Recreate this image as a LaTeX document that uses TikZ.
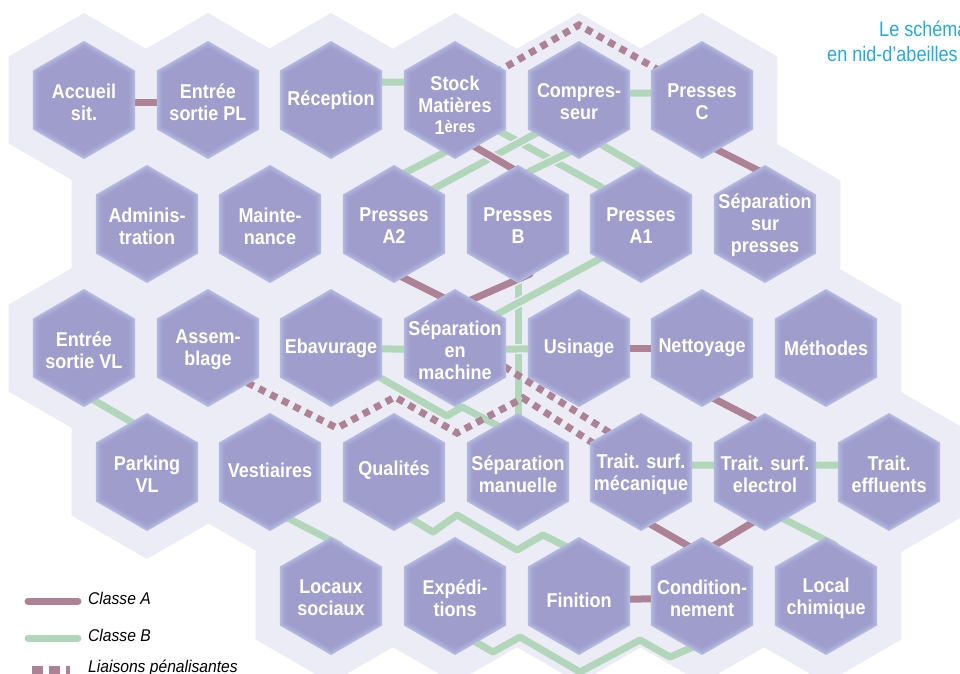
\documentclass[tikz,border=0pt]{standalone}
\usepackage{fontspec}
\setmainfont{Liberation Sans}
\newfontfamily\hexfont[FakeStretch=0.9]{Liberation Sans}
\newfontfamily\legfont[FakeStretch=0.92]{Liberation Sans}
\newfontfamily\titfont[FakeStretch=0.86]{Liberation Sans}
\pgfdeclarelayer{bgl}
\pgfdeclarelayer{conn}
\pgfsetlayers{bgl,conn,main}
\definecolor{bgc}{RGB}{236,236,246}
\definecolor{hxa}{RGB}{178,184,222}
\definecolor{hxb}{RGB}{170,173,216}
\definecolor{hxc}{RGB}{163,164,210}
\definecolor{hxd}{RGB}{158,157,204}
\definecolor{mauve}{RGB}{172,130,148}
\definecolor{vert}{RGB}{178,214,186}
\definecolor{cyant}{RGB}{42,167,223}
\tikzset{
  lbl/.style={text=white, align=center, inner sep=0pt, font=\hexfont\bfseries\fontsize{20}{22}\selectfont},
  leg/.style={anchor=base west, inner sep=0pt, font=\legfont\itshape\fontsize{17}{20}\selectfont},
  tit/.style={anchor=base west, inner sep=0pt, text=cyant, font=\titfont\fontsize{21}{25}\selectfont},
  cA/.style={draw=mauve, line width=7pt, line cap=round, line join=round, preaction={draw=bgc, line width=10pt}},
  cB/.style={draw=vert, line width=7pt, line cap=round, line join=round, preaction={draw=bgc, line width=10pt}},
  cP/.style={draw=mauve, line width=7pt, line cap=butt, line join=miter, dash pattern=on 7pt off 6pt},
}
\begin{document}
\begin{tikzpicture}[x=1pt,y=-1pt]
\useasboundingbox (0,0) rectangle (960,673);
\foreach \n/\x/\y/\s/\t in {
  acc/84/100/2/{Accueil\\sit.}, epl/208/100/2/{Entrée\\sortie PL}, rec/331/100/0/{Réception},
  stock/455/100/5/{Stock\\Matières\\1\raisebox{1.5pt}{\fontsize{16.5}{16.5}\selectfont ères}},
  comp/579/100/2/{Compres-\\seur}, pc/702/100/2/{Presses\\C},
  adm/147/224/2/{Adminis-\\tration}, mnt/270/224/2/{Mainte-\\nance}, a2/394/224/2/{Presses\\A2},
  pb/518/224/2/{Presses\\B}, a1/641/224/2/{Presses\\A1}, ssp/765/224/1/{Séparation\\sur\\presses},
  evl/84/348/2/{Entrée\\sortie VL}, asm/208/348/2/{Assem-\\blage}, eb/331/348/0/{Ebavurage},
  sm/455/348/2/{Séparation\\en\\machine}, us/579/348/0/{Usinage}, net/702/348/0/{Nettoyage},
  met/826/348/0/{Méthodes},
  pvl/147/472/2/{Parking\\VL}, ves/270/472/-2/{Vestiaires}, qual/394/472/-2/{Qualités},
  sman/518/472/2/{Séparation\\manuelle}, tsm/641/472/2/{Trait. surf.\\mécanique},
  tse/765/472/2/{Trait. surf.\\electrol}, tef/889/472/2/{Trait.\\effluents},
  loc/331/596/2/{Locaux\\sociaux}, exp/455/596/2/{Expédi-\\tions}, fin/579/596/4/{Finition},
  cond/702/596/2/{Condition-\\nement}, lc/826/596/2/{Local\\chimique}}{
  \begin{pgfonlayer}{bgl}
    \fill[bgc] (\x,\y) +(90:87) -- +(30:87) -- +(-30:87) -- +(-90:87) -- +(-150:87) -- +(150:87) -- cycle;
  \end{pgfonlayer}
  \foreach \r/\c in {59/hxa,57/hxb,55/hxc,52.5/hxd}{
    \fill[\c] (\x,\y) +(90:\r) -- +(30:\r) -- +(-30:\r) -- +(-90:\r) -- +(-150:\r) -- +(150:\r) -- cycle;
  }
  \node[lbl] (\n) at (\x,\y+\s) {\t};
}
\begin{pgfonlayer}{conn}
% row 1
\draw[cA] (acc.center) -- (epl.center);
\draw[cB] (rec.center) -- (360,82) -- (430,82) -- (stock.center);
\draw[cB] (comp.center) -- (610,93) -- (672,93) -- (pc.center);
% row 1 -> row 2
\draw[cB] (stock.center) -- (490,126) -- (612,193) -- (a1.center);
\draw[cB] (stock.center) -- (455,147) -- (395,178) -- (a2.center);
\draw[cB] (comp.center) -- (545,128.5) -- (425,193.5) -- (a2.center);
\draw[cB] (comp.center) -- (580,147) -- (518,177) -- (pb.center);
\draw[cB] (comp.center) -- (590,138) -- (650,173) -- (a1.center);
\draw[cA] (stock.center) -- (465,141) -- (520,173) -- (pb.center);
\draw[cA] (pc.center) -- (700,141) -- (775,179) -- (ssp.center);
\draw[cP] (stock.center) -- (495,73) -- (579,25) -- (662,72) -- (pc.center);
% row 2 -> row 3
\draw[cB] (pb.center) -- (sman.center);
\draw[cA] (a2.center) -- (390,271) -- (455,303.5) -- (sm.center);
\draw[cA] (pb.center) -- (530,274) -- (455,307) -- (sm.center);
\draw[cB] (a1.center) -- (605,256) -- (490,318) -- (sm.center);
% row 3
\draw[cB] (eb.center) -- (sm.center);
\draw[cB] (sm.center) -- (us.center);
\draw[cA] (us.center) -- (net.center);
% row 3 -> row 4
\draw[cB] (evl.center) -- (85,395) -- (145,430) -- (pvl.center);
\draw[cB] (eb.center) -- (372,373) -- (447,416) -- (462,407) -- (502,428) -- (sman.center);
\draw[cA] (net.center) -- (705,394) -- (765,425) -- (tse.center);
\draw[cP] (sm.center) -- (500,364) -- (615,436) -- (tsm.center);
\draw[cP] (asm.center) -- (230,374) -- (337,428) -- (395,397) -- (457,433) -- (523,398) -- (tsm.center);
% row 4
\draw[cB] (tsm.center) -- (670,465) -- (740,465) -- (tse.center);
\draw[cB] (tse.center) -- (795,465) -- (860,465) -- (tef.center);
% row 4 -> row 5
\draw[cB] (ves.center) -- (280,514) -- (340,545) -- (loc.center);
\draw[cB] (qual.center) -- (403,514) -- (433,532) -- (457,515) -- (517,550) -- (543,535) -- (567,547) -- (fin.center);
\draw[cA] (tsm.center) -- (645,521) -- (697,551) -- (cond.center);
\draw[cA] (tse.center) -- (760,518) -- (710,548) -- (cond.center);
\draw[cB] (tse.center) -- (770,512) -- (835,545) -- (lc.center);
% row 5
\draw[cA] (fin.center) -- (cond.center);
\draw[cB] (exp.center) -- (467,637) -- (493,652) -- (520,637) -- (580,672) -- (640,640) -- (670,657) -- (700,644) -- (cond.center);
\end{pgfonlayer}
% title
\node[tit] (t1) at (879,36) {Le schéma};
\node[tit] (t2) at (827,61) {en nid-d’abeilles};
% legend
\coordinate (la1) at (28,601); \coordinate (la2) at (78,601);
\coordinate (lb1) at (28,638); \coordinate (lb2) at (78,638);
\coordinate (lp1) at (32,670); \coordinate (lp2) at (70,670);
\draw[draw=mauve, line width=7pt, line cap=round] (la1) -- (la2);
\draw[draw=vert, line width=7pt, line cap=round] (lb1) -- (lb2);
\draw[draw=mauve, line width=9pt, dash pattern=on 11pt off 6pt] (lp1) -- (lp2);
\node[leg] (lga) at (88,604) {Classe A};
\node[leg] (lgb) at (88,641) {Classe B};
\node[leg] (lgp) at (88,672) {Liaisons pénalisantes};
\end{tikzpicture}
\end{document}
